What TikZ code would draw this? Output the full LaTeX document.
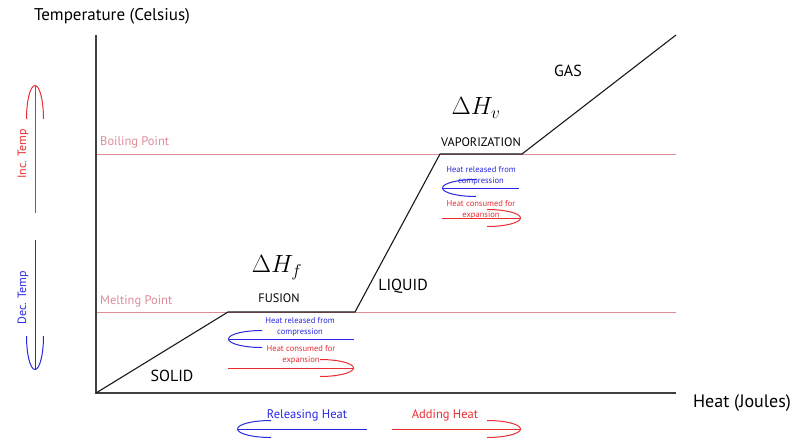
\documentclass[tikz,border=0pt]{standalone}
\usepackage{fontspec}
\setmainfont{PT Sans}
\usetikzlibrary{positioning}
\usetikzlibrary{arrows.meta}
\definecolor{heatblue}{RGB}{40,40,225}
\definecolor{heatred}{RGB}{235,45,50}
\definecolor{pointpink}{RGB}{222,140,150}
\newcommand{\fs}[1]{\fontsize{#1}{#1}\selectfont}

\begin{document}
\begin{tikzpicture}[x=1pt,y=-1pt
   ,axisline/.style={draw=black!75,line width=1.3pt}
   ,phaseline/.style={draw=black!90,line width=1.1pt}
   ,pointline/.style={draw=pointpink,line width=0.8pt}
   ,pointlabel/.style={text=pointpink,font=\fs{12.5},anchor=west,inner sep=0pt}
   ,phaselabel/.style={font=\fs{16},inner sep=0pt}
   ,heatnote/.style={font=\fontsize{8.5}{11.5}\selectfont,align=center,inner sep=0pt}
   ,curved/.style={line width=1pt,-{Arc Barb[length=34pt,width=18pt]}}
   ]
  \useasboundingbox (0,0) rectangle (800,441);
  % corners of the curve
  \coordinate (origin) at (96,393);
  \coordinate (ytop) at (96,35);
  \coordinate (xend) at (676,393);
  \coordinate (meltstart) at (228,312);
  \coordinate (meltend) at (355,312);
  \coordinate (boilstart) at (440,154);
  \coordinate (boilend) at (522,154);
  \coordinate (gasend) at (676,35);
  \coordinate (meltline) at (676,312);
  \coordinate (boilline) at (676,154);
  \coordinate (meltaxis) at (96,312);
  \coordinate (boilaxis) at (96,154);

  \draw[pointline] (meltaxis) -- (meltline);
  \draw[pointline] (boilaxis) -- (boilline);
  \draw[axisline] (ytop) -- (origin) -- (xend);
  \draw[phaseline] (origin) -- (meltstart) -- (meltend) -- (boilstart) -- (boilend) -- (gasend);

  \node (templabel) [font=\fs{17},inner sep=0pt] at (112,16) {Temperature (Celsius)};
  \node (heatlabel) [font=\fs{18},inner sep=0pt] at (742,403) {Heat (Joules)};
  \node (boiling) [pointlabel] at (100,142) {Boiling Point};
  \node (melting) [pointlabel] at (100,301) {Melting Point};

  \node (dhf) [font=\fs{24},inner sep=0pt] at (277,268) {$\Delta H_f$};
  \node (dhv) [font=\fs{24},inner sep=0pt] at (476,108) {$\Delta H_v$};
  \node (fusion) [font=\fs{12.3},inner sep=0pt] at (279,298) {FUSION};
  \node (vapor) [font=\fs{12.3},inner sep=0pt] at (481,142) {VAPORIZATION};
  \node (gas) [phaselabel] at (568,71) {GAS};
  \node (liquid) [phaselabel] at (403,286) {LIQUID};
  \node (solid) [phaselabel] at (172,376) {SOLID};

  % heat notes under the plateaus
  \node (fusrel) [heatnote,text=heatblue] at (300,327) {Heat released from\\compression};
  \node (fuscon) [heatnote,text=heatred] at (301,355) {Heat consumed for\\expansion};
  \node (vaprel) [heatnote,text=heatblue] at (481,176) {Heat released from\\compression};
  \node (vapcon) [heatnote,text=heatred] at (481,210) {Heat consumed for\\expansion};

  \coordinate (fusrelA) at (354,339);  \coordinate (fusrelB) at (228,339);
  \coordinate (fusconA) at (228,368);  \coordinate (fusconB) at (354,368);
  \coordinate (vaprelA) at (519,188);  \coordinate (vaprelB) at (442,188);
  \coordinate (vapconA) at (442,218);  \coordinate (vapconB) at (521,218);
  \draw[curved,heatblue] (fusrelA) -- (fusrelB);
  \draw[curved,heatred] (fusconA) -- (fusconB);
  \draw[curved,heatblue] (vaprelA) -- (vaprelB);
  \draw[curved,heatred] (vapconA) -- (vapconB);

  % temperature direction
  \node (inctemp) [font=\fs{12},rotate=90,text=heatred,inner sep=0pt] at (23,154) {Inc. Temp};
  \node (dectemp) [font=\fs{12},rotate=90,text=heatblue,inner sep=0pt] at (23,298) {Dec. Temp};
  \coordinate (incA) at (35,213);  \coordinate (incB) at (35,85);
  \coordinate (decA) at (35,240);  \coordinate (decB) at (35,370);
  \draw[curved,heatred] (incA) -- (incB);
  \draw[curved,heatblue] (decA) -- (decB);

  % heat direction
  \node (releasing) [font=\fs{12.5},text=heatblue,inner sep=0pt] at (307,415) {Releasing Heat};
  \node (adding) [font=\fs{12.5},text=heatred,inner sep=0pt] at (445,415) {Adding Heat};
  \coordinate (relA) at (367,429);  \coordinate (relB) at (237,429);
  \coordinate (addA) at (392,429);  \coordinate (addB) at (521,429);
  \draw[curved,heatblue] (relA) -- (relB);
  \draw[curved,heatred] (addA) -- (addB);
\end{tikzpicture}
\end{document}
